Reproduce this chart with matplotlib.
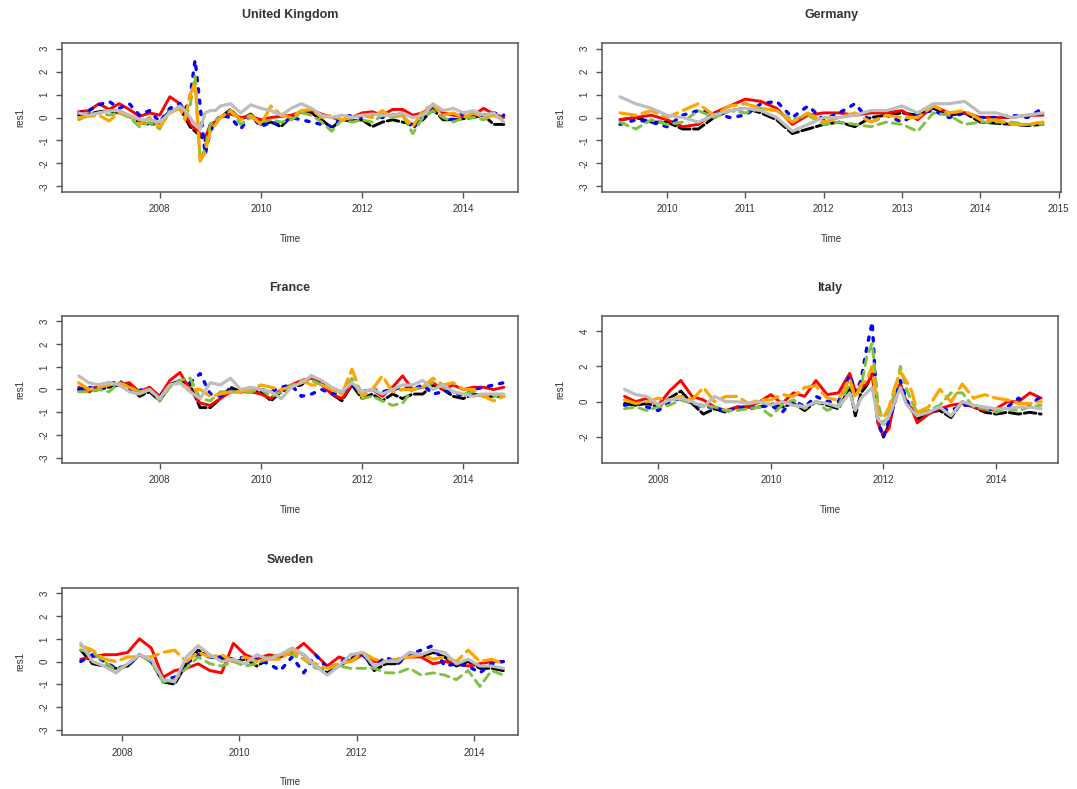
import numpy as np
import matplotlib
matplotlib.use("Agg")
import matplotlib.pyplot as plt

plt.rcParams['font.family'] = ['Liberation Sans', 'DejaVu Sans']

# ---------------- data ----------------
series_names = ["black", "red", "blue", "green", "orange", "gray"]

# United Kingdom
uk_time = [2006.4, 2006.6, 2006.8, 2007.0, 2007.2, 2007.4, 2007.6, 2007.8, 2008.0, 2008.2,
           2008.4, 2008.5, 2008.6, 2008.7, 2008.8, 2008.9, 2009.0, 2009.1, 2009.2, 2009.4,
           2009.6, 2009.8, 2010.0, 2010.2, 2010.4, 2010.6, 2010.8, 2011.0, 2011.2, 2011.4,
           2011.6, 2011.8, 2012.0, 2012.2, 2012.4, 2012.6, 2012.8, 2013.0, 2013.2, 2013.4,
           2013.6, 2013.8, 2014.0, 2014.2, 2014.4, 2014.6, 2014.8]
uk_black = [0.1, 0.15, 0.25, 0.3, 0.2, 0.05, -0.2, -0.3, -0.25, 0.3, 0.4, 0.0, -0.4, -0.6, -0.8, -1.0,
            -0.3, -0.2, 0.0, 0.35, -0.1, 0.15, -0.3, -0.2, -0.4, 0.05, 0.25, 0.2, -0.1, -0.45, -0.1,
            -0.15, -0.1, -0.4, -0.2, -0.1, -0.2, -0.3, -0.1, 0.35, -0.1, -0.1, -0.05, 0.0, 0.1, -0.3, -0.3]
uk_red = [0.25, 0.3, 0.6, 0.35, 0.6, 0.35, 0.05, 0.2, 0.1, 0.9, 0.6, 0.3, -0.3, -0.5, -0.7, -0.9,
          -0.3, -0.2, 0.0, 0.15, 0.0, 0.05, -0.1, 0.0, 0.05, 0.1, 0.25, 0.3, 0.15, 0.0, -0.1,
          0.0, 0.2, 0.25, 0.1, 0.35, 0.35, 0.1, 0.2, 0.5, 0.2, 0.1, 0.05, 0.1, 0.4, 0.15, 0.0]
uk_blue = [0.2, 0.3, 0.55, 0.7, 0.4, 0.6, 0.1, 0.3, -0.2, 0.4, 0.6, 0.3, 0.9, 2.5, 0.5, -1.6,
           -0.6, -0.2, 0.1, 0.0, -0.5, 0.1, -0.4, -0.2, -0.3, 0.0, -0.1, -0.2, -0.3, -0.4, 0.0,
           0.1, 0.0, 0.1, 0.0, 0.1, 0.2, -0.5, 0.1, 0.3, 0.0, -0.1, 0.2, 0.0, 0.1, 0.2, 0.1]
uk_green = [-0.1, 0.1, 0.2, 0.1, 0.2, 0.0, -0.4, -0.2, -0.5, 0.3, 0.4, 0.0, 0.5, 1.8, -1.9, -1.3,
            -0.3, -0.1, 0.0, 0.3, -0.3, 0.0, -0.2, -0.1, -0.2, -0.1, 0.2, 0.1, -0.2, -0.6, -0.1,
            -0.2, -0.1, -0.2, 0.1, 0.0, 0.1, -0.7, 0.0, 0.3, 0.0, -0.2, 0.0, 0.0, -0.1, 0.1, -0.1]
uk_orange = [0.0, 0.05, 0.1, -0.15, 0.2, 0.1, -0.3, 0.0, -0.4, 0.2, 0.4, -0.1, 1.0, 1.5, -1.9, -1.5,
             -0.6, -0.3, 0.0, 0.3, -0.1, 0.1, -0.3, 0.5, 0.1, 0.0, 0.3, 0.35, 0.0, 0.1, -0.1,
             0.0, 0.1, 0.0, 0.3, 0.0, 0.1, -0.4, 0.3, 0.55, 0.1, 0.2, 0.0, 0.2, 0.0, 0.1, -0.1]
uk_gray = [0.2, 0.1, 0.2, 0.3, 0.3, 0.1, -0.1, -0.1, -0.2, 0.2, 0.5, 0.3, 0.0, -0.3, -0.5, 0.2,
           0.3, 0.3, 0.5, 0.6, 0.2, 0.55, 0.4, 0.3, 0.1, 0.4, 0.6, 0.4, 0.1, 0.0, 0.1,
           0.0, 0.1, 0.15, 0.1, 0.1, 0.2, 0.0, 0.1, 0.6, 0.3, 0.4, 0.2, 0.3, 0.1, 0.2, -0.2]

# Germany
de_time = [2009.4, 2009.6, 2009.8, 2010.0, 2010.2, 2010.4, 2010.6, 2010.8, 2011.0, 2011.2,
           2011.4, 2011.6, 2011.8, 2012.0, 2012.2, 2012.4, 2012.6, 2012.8, 2013.0, 2013.2,
           2013.4, 2013.6, 2013.8, 2014.0, 2014.2, 2014.4, 2014.6, 2014.8]
de_black = [-0.1, 0.0, -0.2, -0.2, -0.5, -0.5, 0.0, 0.3, 0.4, 0.2, -0.1, -0.7, -0.5, -0.3,
            -0.2, -0.4, 0.0, 0.1, 0.2, 0.1, 0.4, 0.1, 0.2, -0.2, -0.25, -0.3, -0.35, -0.3]
de_red = [-0.1, 0.0, 0.1, -0.1, -0.4, -0.3, 0.2, 0.5, 0.8, 0.7, 0.4, -0.3, 0.1, 0.2,
          0.2, 0.1, 0.2, 0.2, 0.3, -0.1, 0.5, 0.2, 0.2, 0.0, 0.0, 0.0, 0.1, 0.1]
de_blue = [-0.3, -0.1, -0.2, -0.4, 0.1, 0.3, 0.2, 0.0, 0.1, 0.6, 0.7, 0.0, 0.5, -0.1,
           0.2, 0.6, -0.2, 0.1, -0.2, 0.2, 0.3, 0.0, 0.2, 0.0, 0.0, 0.1, 0.0, 0.4]
de_green = [-0.2, -0.5, -0.1, -0.3, -0.2, 0.3, 0.0, 0.3, 0.2, 0.4, 0.3, -0.1, 0.1, -0.3,
            -0.2, -0.3, -0.4, -0.2, -0.3, -0.6, 0.2, 0.1, -0.3, -0.2, -0.2, -0.2, -0.3, -0.3]
de_orange = [0.2, 0.1, 0.3, 0.0, 0.3, 0.6, 0.1, 0.5, 0.6, 0.4, 0.3, -0.2, 0.2, -0.2,
             0.0, 0.2, -0.2, 0.1, 0.0, 0.0, 0.5, 0.2, 0.3, -0.1, -0.1, -0.3, -0.3, -0.2]
de_gray = [0.9, 0.6, 0.4, 0.1, 0.0, -0.2, 0.1, 0.3, 0.4, 0.3, 0.0, -0.6, -0.3, 0.0,
           0.0, 0.1, 0.3, 0.3, 0.5, 0.2, 0.6, 0.6, 0.7, 0.2, 0.2, 0.0, 0.1, 0.2]

# France
fr_time = [2006.4, 2006.6, 2006.8, 2007.0, 2007.2, 2007.4, 2007.6, 2007.8, 2008.0, 2008.2,
           2008.4, 2008.6, 2008.8, 2009.0, 2009.2, 2009.4, 2009.6, 2009.8, 2010.0, 2010.2,
           2010.4, 2010.6, 2010.8, 2011.0, 2011.2, 2011.4, 2011.6, 2011.8, 2012.0, 2012.2,
           2012.4, 2012.6, 2012.8, 2013.0, 2013.2, 2013.4, 2013.6, 2013.8, 2014.0, 2014.2,
           2014.4, 2014.6, 2014.8]
fr_black = [0.0, -0.1, 0.0, 0.1, 0.2, 0.2, -0.3, -0.1, -0.5, 0.2, 0.4, 0.2, -0.8, -0.8, -0.4,
            0.1, -0.1, -0.1, -0.1, -0.5, -0.1, 0.1, 0.2, 0.6, 0.3, -0.2, -0.5, 0.2, -0.4, -0.2,
            -0.5, -0.2, -0.4, -0.2, -0.2, 0.2, 0.0, -0.3, -0.4, -0.2, -0.3, -0.3, -0.3]
fr_red = [0.1, -0.1, 0.2, 0.3, 0.2, 0.3, -0.1, 0.1, -0.3, 0.4, 0.75, 0.0, -0.6, -0.7, -0.4,
          -0.1, -0.1, -0.1, -0.2, -0.4, 0.0, 0.2, 0.4, 0.5, 0.2, -0.2, -0.4, 0.2, -0.1, 0.0,
          -0.3, 0.1, 0.6, 0.0, 0.1, 0.3, 0.0, 0.2, 0.0, 0.1, 0.1, 0.0, 0.1]
fr_blue = [0.0, 0.1, 0.0, 0.2, 0.4, 0.0, 0.0, -0.1, -0.3, 0.2, 0.4, 0.3, 0.7, -0.2, -0.3,
           0.0, -0.1, 0.0, 0.0, -0.1, 0.1, 0.2, -0.3, -0.2, 0.0, -0.2, -0.1, 0.2, -0.1, 0.0,
           -0.1, 0.0, 0.1, 0.0, 0.2, -0.2, -0.1, -0.1, -0.3, 0.0, 0.1, 0.2, 0.3]
fr_green = [-0.1, -0.1, 0.0, -0.1, 0.3, 0.1, -0.1, 0.0, -0.5, 0.1, 0.4, 0.5, -0.4, -0.5, -0.1,
            -0.1, -0.1, -0.1, 0.0, -0.3, -0.1, 0.2, 0.3, 0.4, 0.2, 0.0, -0.2, 0.5, -0.4, -0.3,
            -0.5, -0.7, -0.6, 0.0, 0.1, 0.3, 0.1, -0.1, -0.2, -0.1, -0.3, -0.3, -0.2]
fr_orange = [0.3, 0.0, 0.1, 0.2, 0.3, 0.1, -0.1, 0.0, -0.4, 0.2, 0.3, 0.0, 0.0, -0.3, -0.2,
             -0.1, -0.1, 0.0, 0.2, 0.1, 0.0, 0.1, 0.4, 0.2, 0.2, 0.0, -0.2, 0.9, -0.3, 0.0,
             0.6, -0.1, 0.0, 0.0, 0.1, 0.5, 0.2, 0.3, 0.0, 0.0, -0.3, -0.5, -0.3]
fr_gray = [0.6, 0.3, 0.2, 0.3, 0.2, -0.1, -0.2, 0.0, -0.4, 0.2, 0.3, -0.1, -0.4, 0.3, 0.2,
           0.5, 0.0, 0.1, 0.0, -0.1, -0.4, 0.1, 0.3, 0.6, 0.4, 0.1, -0.1, 0.3, -0.1, 0.0,
           -0.2, 0.0, 0.2, 0.2, 0.4, 0.0, 0.2, -0.1, -0.2, -0.3, -0.2, -0.2, -0.2]

# Italy
it_time = [2007.4, 2007.6, 2007.8, 2008.0, 2008.2, 2008.4, 2008.6, 2008.8, 2009.0, 2009.2,
           2009.4, 2009.6, 2009.8, 2010.0, 2010.2, 2010.4, 2010.6, 2010.8, 2011.0, 2011.2,
           2011.4, 2011.5, 2011.6, 2011.7, 2011.8, 2011.9, 2012.0, 2012.1, 2012.2, 2012.3,
           2012.4, 2012.5, 2012.6, 2012.8, 2013.0, 2013.2, 2013.4, 2013.6, 2013.8, 2014.0,
           2014.2, 2014.4, 2014.6, 2014.8]
it_black = [-0.1, -0.2, -0.1, -0.3, 0.2, 0.6, -0.1, -0.7, -0.4, -0.6, -0.3, -0.3, -0.3, -0.1,
            -0.3, -0.1, -0.5, 0.0, -0.2, -0.4, 0.8, -0.8, 0.5, 0.9, 1.6, -1.0, -2.0, -1.3, 0.0,
            1.0, 0.0, -0.4, -1.0, -0.6, -0.5, -0.9, 0.0, -0.3, -0.6, -0.7, -0.6, -0.7, -0.6, -0.7]
it_red = [0.3, 0.0, 0.2, -0.2, 0.6, 1.2, 0.3, 0.1, -0.3, -0.5, -0.3, -0.3, 0.0, 0.4,
          -0.1, 0.5, 0.3, 1.2, 0.4, 0.5, 1.6, 0.6, 0.8, 1.0, 1.5, -1.2, -1.9, -1.5, 0.3,
          1.0, 0.0, -0.4, -1.2, -0.7, -0.4, -0.2, -0.1, -0.3, -0.5, -0.4, 0.0, 0.0, 0.5, 0.2]
it_blue = [-0.2, -0.1, -0.3, -0.5, 0.0, 0.2, -0.1, -0.3, -0.3, -0.6, -0.3, -0.4, -0.3, -0.2,
           -0.6, 0.1, -0.3, 0.3, 0.0, 0.0, 1.5, 0.5, 1.2, 3.0, 4.5, -1.2, -2.0, -1.0, 0.0,
           1.2, 0.2, -0.5, -0.8, -0.6, -0.4, -0.5, -0.2, -0.2, -0.4, -0.5, -0.3, 0.2, -0.2, 0.3]
it_green = [-0.4, -0.3, -0.5, -0.3, -0.2, 0.1, -0.1, -0.2, -0.3, -0.5, -0.5, -0.4, -0.3, -0.8,
            -0.2, 0.1, -0.4, 0.0, -0.5, -0.2, 1.0, 0.3, 0.8, 2.5, 3.3, 0.0, -1.3, -0.5, 0.5,
            2.0, 0.8, 0.0, -0.6, -0.5, -0.2, 0.5, 0.5, -0.3, -0.4, -0.6, -0.4, -0.5, -0.3, -0.2]
it_orange = [0.1, -0.1, 0.0, 0.2, 0.1, 0.3, 0.1, 0.8, 0.0, 0.3, 0.3, -0.1, 0.1, 0.1,
             0.4, 0.3, 0.8, 0.9, 0.2, 0.1, 1.3, 0.2, 1.0, 1.2, 2.0, -0.6, -0.9, -0.3, 0.8,
             1.7, 1.2, 0.6, -0.6, -0.3, 0.7, 0.0, 1.0, 0.2, 0.4, 0.2, 0.1, -0.1, -0.1, 0.0]
it_gray = [0.7, 0.4, 0.3, -0.2, 0.1, 0.2, 0.0, -0.3, 0.3, 0.0, 0.0, -0.1, 0.0, -0.2,
           0.0, -0.2, -0.3, 0.0, -0.1, -0.3, 0.5, -0.5, 0.2, 0.5, 0.8, -1.0, -1.3, -0.8, 0.0,
           0.8, -0.1, -0.5, -0.8, -0.6, -0.3, -0.8, 0.0, -0.2, -0.3, -0.4, -0.4, -0.3, -0.3, -0.4]

# Sweden
se_time = [2007.3, 2007.5, 2007.7, 2007.9, 2008.1, 2008.3, 2008.5, 2008.7, 2008.9, 2009.1,
           2009.3, 2009.5, 2009.7, 2009.9, 2010.1, 2010.3, 2010.5, 2010.7, 2010.9, 2011.1,
           2011.3, 2011.5, 2011.7, 2011.9, 2012.1, 2012.3, 2012.5, 2012.7, 2012.9, 2013.1,
           2013.3, 2013.5, 2013.7, 2013.9, 2014.1, 2014.3, 2014.5]
se_black = [0.5, -0.1, -0.2, -0.3, -0.2, 0.3, 0.0, -0.9, -1.0, -0.1, 0.5, 0.2, 0.1, 0.0,
            0.1, -0.2, 0.1, 0.2, 0.5, 0.3, -0.2, -0.5, -0.2, 0.1, 0.4, -0.4, -0.1, -0.1,
            0.4, 0.2, 0.4, 0.2, -0.2, 0.0, -0.3, -0.3, -0.4]
se_red = [0.1, 0.2, 0.3, 0.3, 0.4, 1.0, 0.6, -0.7, -0.4, -0.3, -0.1, -0.4, -0.5, 0.8,
          0.3, 0.1, 0.3, 0.2, 0.4, 0.8, 0.3, -0.2, 0.2, 0.0, 0.3, 0.0, 0.0, 0.1,
          0.2, 0.2, -0.1, 0.0, -0.1, -0.2, -0.1, 0.0, 0.0]
se_blue = [0.0, 0.3, 0.0, -0.3, -0.2, 0.3, 0.0, -0.8, -0.7, -0.1, 0.3, 0.2, 0.2, 0.1,
           0.2, 0.1, -0.1, -0.4, 0.2, -0.5, 0.3, -0.3, -0.1, 0.3, 0.3, -0.2, 0.2, -0.1,
           0.3, 0.5, 0.7, -0.2, -0.1, -0.2, -0.5, -0.1, 0.0]
se_green = [0.5, 0.4, 0.0, -0.4, -0.1, 0.3, 0.0, -0.9, -0.8, -0.3, 0.2, -0.1, -0.2, 0.0,
            -0.2, -0.1, 0.2, 0.3, 0.3, 0.1, -0.3, -0.3, -0.2, -0.3, -0.3, -0.3, -0.5, -0.5,
            -0.3, -0.6, -0.5, -0.6, -0.8, -0.4, -1.1, -0.4, -0.6]
se_orange = [0.7, 0.5, 0.1, 0.0, 0.2, 0.2, 0.2, 0.4, 0.5, 0.0, 0.4, 0.2, 0.3, 0.0,
             0.2, 0.0, 0.1, 0.1, 0.5, 0.1, -0.1, -0.3, -0.1, 0.0, 0.4, 0.1, 0.0, 0.1,
             0.2, 0.3, 0.1, 0.2, 0.0, 0.5, 0.0, 0.1, -0.1]
se_gray = [0.8, 0.0, -0.2, -0.5, -0.1, 0.3, 0.1, -0.8, -0.9, 0.2, 0.7, 0.3, 0.0, 0.1,
           -0.1, 0.3, 0.1, 0.3, 0.6, 0.3, -0.2, -0.6, -0.2, 0.3, 0.4, -0.2, 0.0, 0.0,
           0.4, 0.3, 0.5, 0.4, -0.1, 0.1, -0.2, -0.2, -0.3]

countries = ["United Kingdom", "Germany", "France", "Italy", "Sweden"]
panel_data = {
    "United Kingdom": (uk_time, [uk_black, uk_red, uk_blue, uk_green, uk_orange, uk_gray]),
    "Germany": (de_time, [de_black, de_red, de_blue, de_green, de_orange, de_gray]),
    "France": (fr_time, [fr_black, fr_red, fr_blue, fr_green, fr_orange, fr_gray]),
    "Italy": (it_time, [it_black, it_red, it_blue, it_green, it_orange, it_gray]),
    "Sweden": (se_time, [se_black, se_red, se_blue, se_green, se_orange, se_gray]),
}
xticks = {
    "United Kingdom": [2008, 2010, 2012, 2014],
    "Germany": [2010, 2011, 2012, 2013, 2014, 2015],
    "France": [2008, 2010, 2012, 2014],
    "Italy": [2008, 2010, 2012, 2014],
    "Sweden": [2008, 2010, 2012, 2014],
}
yticks = {
    "United Kingdom": [-3, -2, -1, 0, 1, 2, 3],
    "Germany": [-3, -2, -1, 0, 1, 2, 3],
    "France": [-3, -2, -1, 0, 1, 2, 3],
    "Italy": [-2, 0, 2, 4],
    "Sweden": [-3, -2, -1, 0, 1, 2, 3],
}

# ---------------- styling / layout ----------------
W, H = 1077, 789
fig = plt.figure(figsize=(W / 100, H / 100), dpi=100)

boxes = {  # left, top, right, bottom in pixels
    "United Kingdom": (62, 43, 518, 192),
    "Germany": (602, 43, 1061, 192),
    "France": (62, 316, 518, 463),
    "Italy": (602, 316, 1058, 463),
    "Sweden": (62, 588, 518, 735),
}
xlims = {
    "United Kingdom": (2006.07, 2015.08),
    "Germany": (2009.17, 2015.03),
    "France": (2006.07, 2015.08),
    "Italy": (2007.0, 2015.1),
    "Sweden": (2006.98, 2014.75),
}
ylims = {
    "United Kingdom": (-3.24, 3.24),
    "Germany": (-3.24, 3.24),
    "France": (-3.24, 3.24),
    "Italy": (-3.47, 4.85),
    "Sweden": (-3.24, 3.24),
}

styles = [
    dict(color="black", linestyle=(0, (4, 1.2)), lw=2.1),
    dict(color="red", linestyle="-", lw=2.1),
    dict(color="blue", linestyle=(0, (1, 2.4)), lw=2.4),
    dict(color="#7fc241", linestyle=(0, (3, 2)), lw=2.1),
    dict(color="orange", linestyle=(0, (5, 2)), lw=2.3),
    dict(color="#bdbdbd", linestyle="-", lw=2.3),
]

text_col = "#333333"
for c in countries:
    l, t, r, b = boxes[c]
    ax = fig.add_axes([l / W, 1 - b / H, (r - l) / W, (b - t) / H])
    tt, vals = panel_data[c]
    for v, st in zip(vals, styles):
        ax.plot(tt, v, solid_capstyle="round", dash_capstyle="round", **st)
    ax.set_xlim(*xlims[c])
    ax.set_ylim(*ylims[c])
    ax.set_xticks(xticks[c])
    ax.set_yticks(yticks[c])
    ax.set_xticklabels([str(x) for x in xticks[c]], fontsize=7, color=text_col)
    ax.set_yticklabels([str(y) for y in yticks[c]], fontsize=7, color=text_col,
                       rotation=90, va="center")
    ax.tick_params(direction="out", length=4, width=1, color="#555555", pad=5)
    for sp in ax.spines.values():
        sp.set_color("#555555")
        sp.set_linewidth(1.1)
    ax.set_title(c, fontsize=9, fontweight="bold", color=text_col, pad=18)
    ax.set_xlabel("Time", fontsize=7, color=text_col, labelpad=14)
    ax.set_ylabel("res1", fontsize=7, color=text_col, labelpad=10)

fig.savefig("out.png", dpi=100)
